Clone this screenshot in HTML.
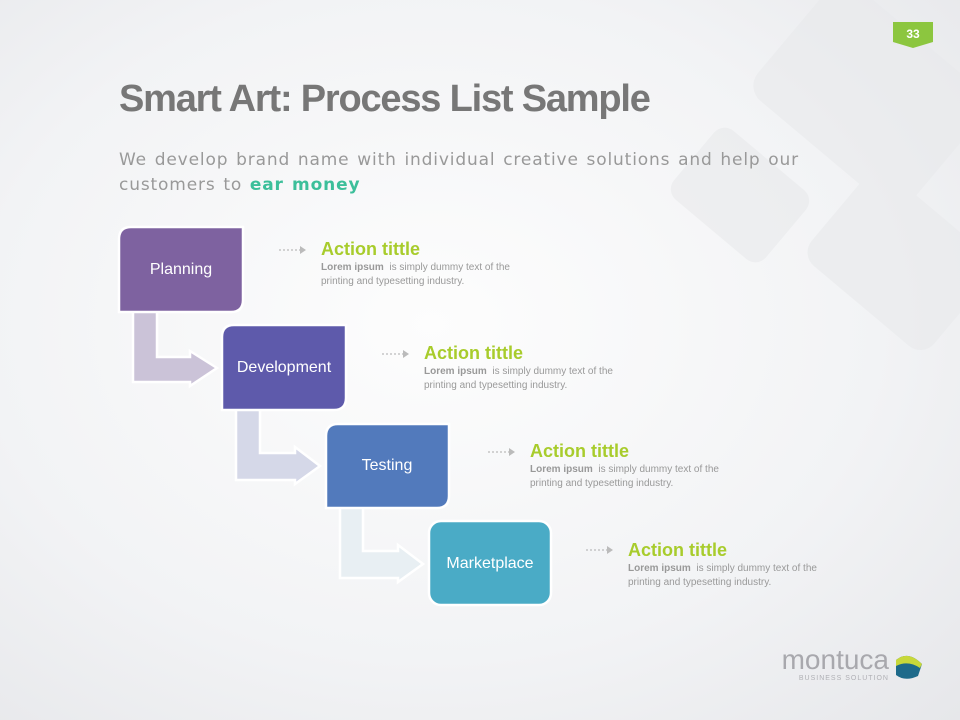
<!DOCTYPE html>
<html><head><meta charset="utf-8"><style>
html,body{margin:0;padding:0}
body{width:960px;height:720px;overflow:hidden;position:relative;font-family:"Liberation Sans",sans-serif;background:radial-gradient(ellipse at 45% 45%,#fdfdfd 0%,#f2f3f5 60%,#e6e7ea 100%)}
.t{position:absolute;white-space:nowrap}
</style></head><body>
<svg width="960" height="720" style="position:absolute;left:0;top:0">
<g fill="#e9eaec" opacity="0.6">
<rect x="770" y="20" width="200" height="150" rx="20" transform="rotate(40 870 95)"/>
<rect x="820" y="200" width="160" height="120" rx="18" transform="rotate(40 900 260)"/>
<rect x="680" y="150" width="120" height="90" rx="14" transform="rotate(40 740 195)"/>
</g>
<polygon points="893,22 933,22 933,42 913,48 893,42" fill="#8cc63f"/>
<text x="913" y="38" font-family="Liberation Sans" font-weight="bold" font-size="12" fill="#fff" text-anchor="middle">33</text>
<g stroke="#fff" stroke-width="2.5">
<path d="M133,311 H157 V357 H190 V351 L217,368 L190,386 V382 H133 Z" fill="#cbc3d8"/>
<path d="M236,409 H260 V453 H295 V447 L320,466 L295,484 V480 H236 Z" fill="#d5d8e8"/>
<path d="M340,507 H363 V551 H398 V545 L423,564 L398,582 V578 H340 Z" fill="#e8eff3"/>
<path d="M131,227 H243 V300 Q243,312 231,312 H119 V239 Q119,227 131,227 Z" fill="#7e62a0"/>
<path d="M234,325 H346 V398 Q346,410 334,410 H222 V337 Q222,325 234,325 Z" fill="#5e5aab"/>
<path d="M338,424 H449 V496 Q449,508 437,508 H326 V436 Q326,424 338,424 Z" fill="#527abc"/>
<rect x="429" y="521" width="122" height="84" rx="12" fill="#4aabc6"/>
</g>
<g font-family="Liberation Sans" font-size="16" fill="#fff" text-anchor="middle">
<text x="181" y="274">Planning</text>
<text x="284" y="372">Development</text>
<text x="387" y="470">Testing</text>
<text x="490" y="568">Marketplace</text>
</g>
<g stroke="#bbb" stroke-width="1.2" stroke-dasharray="2,2" fill="#bbb">
<line x1="279" y1="250" x2="301" y2="250"/><polygon points="300,246 306,250 300,254" stroke="none"/>
<line x1="382" y1="354" x2="404" y2="354"/><polygon points="403,350 409,354 403,358" stroke="none"/>
<line x1="488" y1="452" x2="510" y2="452"/><polygon points="509,448 515,452 509,456" stroke="none"/>
<line x1="586" y1="550" x2="608" y2="550"/><polygon points="607,546 613,550 607,554" stroke="none"/>
</g>
<text x="889" y="669" font-family="Liberation Sans" font-size="28" fill="#a8a8ad" text-anchor="end">montuca</text>
<text x="889" y="680" font-family="Liberation Sans" font-size="7" fill="#b0b0b5" text-anchor="end" letter-spacing="1">BUSINESS SOLUTION</text>
<path d="M896,660 Q908,650 922,664 L918,676 Q905,682 896,675 Z" fill="#1e6a8a"/>
<path d="M896,660 Q908,650 922,664 L920,668 Q908,660 896,666 Z" fill="#c8d83a"/>
</svg>
<div class="t" style="left:119px;top:78px;font-size:38px;font-weight:bold;color:#777;letter-spacing:-1.2px">Smart Art: Process List Sample</div>
<div class="t" style="left:119px;top:148px;color:#999;line-height:25px;letter-spacing:0.85px;font-family:'DejaVu Sans',sans-serif;font-size:17px;word-spacing:1.5px">We develop brand name with individual creative solutions and help our<br>customers to <b style="color:#3cbf9a;font-weight:bold">ear money</b></div>
<div class="t" style="left:321px;top:239px"><div style="font-size:18px;font-weight:bold;color:#a8cc2c">Action tittle</div><div style="font-size:10px;color:#999;line-height:14px;margin-top:1px"><b>Lorem ipsum</b>&nbsp; is simply dummy text of the<br>printing and typesetting industry.</div></div>
<div class="t" style="left:424px;top:343px"><div style="font-size:18px;font-weight:bold;color:#a8cc2c">Action tittle</div><div style="font-size:10px;color:#999;line-height:14px;margin-top:1px"><b>Lorem ipsum</b>&nbsp; is simply dummy text of the<br>printing and typesetting industry.</div></div>
<div class="t" style="left:530px;top:441px"><div style="font-size:18px;font-weight:bold;color:#a8cc2c">Action tittle</div><div style="font-size:10px;color:#999;line-height:14px;margin-top:1px"><b>Lorem ipsum</b>&nbsp; is simply dummy text of the<br>printing and typesetting industry.</div></div>
<div class="t" style="left:628px;top:540px"><div style="font-size:18px;font-weight:bold;color:#a8cc2c">Action tittle</div><div style="font-size:10px;color:#999;line-height:14px;margin-top:1px"><b>Lorem ipsum</b>&nbsp; is simply dummy text of the<br>printing and typesetting industry.</div></div>
</body></html>
